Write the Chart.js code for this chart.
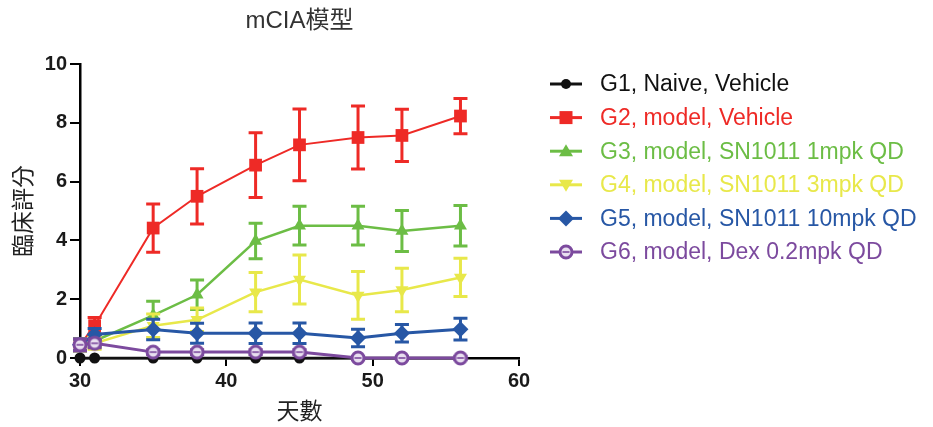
<!DOCTYPE html>
<html>
<head>
<meta charset="utf-8">
<script src="https://cdn.jsdelivr.net/npm/chart.js@4.4.0/dist/chart.umd.min.js"></script>
<style>
  html, body { margin: 0; padding: 0; background: #fff; }
  #wrap { width: 933px; height: 427px; }
</style>
</head>
<body>
<div id="wrap"><canvas id="c" width="933" height="427"></canvas></div>
<script>
// Days after immunisation
const days = [30, 31, 35, 38, 42, 45, 49, 52, 56];

// Mean clinical score per group
const g1 = [0, 0, 0, 0, 0, 0, 0, 0, 0];
const g2 = [0.45, 1.1, 4.42, 5.5, 6.56, 7.25, 7.5, 7.57, 8.23];
const g3 = [0.45, 0.58, 1.45, 2.15, 3.98, 4.5, 4.5, 4.32, 4.5];
const g4 = [0.45, 0.5, 1.1, 1.3, 2.24, 2.67, 2.13, 2.31, 2.74];
const g5 = [0.45, 0.8, 0.97, 0.84, 0.84, 0.84, 0.68, 0.84, 0.98];
const g6 = [0.45, 0.5, 0.2, 0.2, 0.2, 0.2, 0, 0, 0];

// Standard error per group
const g1Err = [0, 0, 0, 0, 0, 0, 0, 0, 0];
const g2Err = [0.2, 0.28, 0.82, 0.94, 1.1, 1.22, 1.07, 0.89, 0.6];
const g3Err = [0.2, 0.2, 0.48, 0.5, 0.6, 0.66, 0.66, 0.7, 0.69];
const g4Err = [0.2, 0.2, 0.4, 0.4, 0.67, 0.83, 0.81, 0.74, 0.65];
const g5Err = [0.2, 0.2, 0.35, 0.34, 0.35, 0.35, 0.3, 0.3, 0.37];
const g6Err = [0.2, 0.15, 0.08, 0.08, 0.08, 0.08, 0.05, 0.05, 0.05];

const groupNames = [
  'G1, Naive, Vehicle',
  'G2, model, Vehicle',
  'G3, model, SN1011 1mpk QD',
  'G4, model, SN1011 3mpk QD',
  'G5, model, SN1011 10mpk QD',
  'G6, model, Dex 0.2mpk QD'
];

const xTicks = [30, 40, 50, 60];
const yTicks = [0, 2, 4, 6, 8, 10];

const chartTitle = 'mCIA模型';
const colors = ['#111111', '#EE2A26', '#6CBD45', '#E8E84A', '#2757A5', '#7C4A9E'];

const FONT = '"Liberation Sans", Arial, "Noto Sans CJK TC", sans-serif';

// Hollow circle with a bar, used for the Dex group
function makeDexMarker() {
  const cv = document.createElement('canvas');
  cv.width = 18; cv.height = 18;
  const c = cv.getContext('2d');
  c.beginPath();
  c.arc(9, 9, 6, 0, Math.PI * 2);
  c.fillStyle = '#e9e0f0';
  c.fill();
  c.lineWidth = 3;
  c.strokeStyle = colors[5];
  c.stroke();
  c.beginPath();
  c.moveTo(5.5, 9); c.lineTo(12.5, 9);
  c.lineWidth = 1.6;
  c.stroke();
  return cv;
}
const dexMarker = makeDexMarker();

const means = [g1, g2, g3, g4, g5, g6];
const errs = [g1Err, g2Err, g3Err, g4Err, g5Err, g6Err];
const styles = [
  { pointStyle: 'circle', radius: 5.5, rotation: 0 },
  { pointStyle: 'rect', radius: 9, rotation: 0 },
  { pointStyle: 'triangle', radius: 7.5, rotation: 0 },
  { pointStyle: 'triangle', radius: 7.5, rotation: 180 },
  { pointStyle: 'rectRot', radius: 8, rotation: 0 },
  { pointStyle: dexMarker, radius: 7, rotation: 0 }
];
const lineWidths = [2.5, 2, 2.5, 2.5, 3, 3];

const datasets = means.map((vals, i) => ({
  label: groupNames[i],
  data: days.map((d, k) => ({ x: d, y: vals[k] })),
  errors: errs[i],
  borderColor: colors[i],
  backgroundColor: colors[i],
  borderWidth: lineWidths[i],
  pointStyle: styles[i].pointStyle,
  pointRadius: styles[i].radius,
  pointRotation: styles[i].rotation,
  pointBorderWidth: 0,
  pointBackgroundColor: colors[i],
  tension: 0,
  clip: false,
  order: 5 - i
}));

// Vertical error bars with caps, drawn under each series' line
const errorBarPlugin = {
  id: 'errorBars',
  beforeDatasetDraw(chart, args) {
    const ds = chart.data.datasets[args.index];
    if (!ds.errors) return;
    const ctx = chart.ctx;
    const xs = chart.scales.x, ys = chart.scales.y;
    ctx.save();
    ctx.strokeStyle = ds.borderColor;
    ctx.lineWidth = 3;
    ds.data.forEach((p, k) => {
      const e = ds.errors[k];
      if (!e) return;
      const px = xs.getPixelForValue(p.x);
      const top = ys.getPixelForValue(p.y + e);
      const bot = ys.getPixelForValue(Math.max(p.y - e, -0.1));
      const cap = 7;
      ctx.beginPath();
      ctx.moveTo(px, top); ctx.lineTo(px, bot);
      ctx.moveTo(px - cap, top); ctx.lineTo(px + cap, top);
      ctx.moveTo(px - cap, bot); ctx.lineTo(px + cap, bot);
      ctx.stroke();
    });
    ctx.restore();
  }
};

function drawLegendMarker(ctx, i, x, y) {
  ctx.save();
  ctx.fillStyle = colors[i];
  ctx.beginPath();
  if (i === 0) {
    ctx.arc(x, y, 5, 0, Math.PI * 2);
    ctx.fill();
  } else if (i === 1) {
    ctx.rect(x - 6.5, y - 6.5, 13, 13);
    ctx.fill();
  } else if (i === 2) {
    ctx.moveTo(x, y - 7); ctx.lineTo(x + 7, y + 5); ctx.lineTo(x - 7, y + 5);
    ctx.closePath(); ctx.fill();
  } else if (i === 3) {
    ctx.moveTo(x, y + 7); ctx.lineTo(x + 7, y - 5); ctx.lineTo(x - 7, y - 5);
    ctx.closePath(); ctx.fill();
  } else if (i === 4) {
    ctx.moveTo(x, y - 8); ctx.lineTo(x + 8, y); ctx.lineTo(x, y + 8); ctx.lineTo(x - 8, y);
    ctx.closePath(); ctx.fill();
  } else {
    ctx.drawImage(dexMarker, x - 9, y - 9);
  }
  ctx.restore();
}

// Legend column to the right of the plot, title centred over the plot area
const sideLegendPlugin = {
  id: 'sideLegend',
  afterDraw(chart) {
    const ctx = chart.ctx;
    const area = chart.chartArea;
    ctx.save();
    ctx.font = '24px ' + FONT;
    ctx.fillStyle = '#333333';
    ctx.textAlign = 'center';
    ctx.textBaseline = 'middle';
    ctx.fillText(chartTitle, (area.left + area.right) / 2, 21);

    const x0 = 550, x1 = 582, tx = 600, y0 = 84, step = 33.6;
    ctx.font = '23px ' + FONT;
    ctx.textAlign = 'left';
    groupNames.forEach((name, i) => {
      const y = y0 + i * step;
      ctx.strokeStyle = colors[i];
      ctx.lineWidth = 3;
      ctx.beginPath();
      ctx.moveTo(x0, y); ctx.lineTo(x1, y);
      ctx.stroke();
      drawLegendMarker(ctx, i, (x0 + x1) / 2, y);
      ctx.fillStyle = colors[i];
      ctx.fillText(name, tx, y + 1);
    });
    ctx.restore();
  }
};

new Chart(document.getElementById('c'), {
  type: 'line',
  data: { datasets },
  plugins: [errorBarPlugin, sideLegendPlugin],
  options: {
    responsive: false,
    animation: false,
    devicePixelRatio: 1,
    layout: { padding: { left: 0, right: 414, top: 64, bottom: 0 } },
    plugins: {
      legend: { display: false },
      tooltip: { enabled: false },
      title: { display: false }
    },
    scales: {
      x: {
        type: 'linear',
        min: 30,
        max: 60,
        afterFit(scale) { scale.height = 69; },
        afterBuildTicks(scale) { scale.ticks = xTicks.map(v => ({ value: v })); },
        ticks: {
          color: '#1a1a1a',
          font: { family: FONT, size: 20, weight: 'bold' },
          padding: 3,
          maxRotation: 0
        },
        grid: { display: true, drawOnChartArea: false, drawTicks: true, tickLength: 8, color: '#000', lineWidth: 2 },
        border: { display: true, color: '#000', width: 2.5 },
        title: {
          display: true,
          text: '天數',
          color: '#222',
          font: { family: FONT, size: 23 },
          padding: { top: 0, bottom: 1 }
        }
      },
      y: {
        min: 0,
        max: 10,
        afterFit(scale) { scale.width = 80; },
        afterBuildTicks(scale) { scale.ticks = yTicks.map(v => ({ value: v })); },
        ticks: {
          color: '#1a1a1a',
          font: { family: FONT, size: 20, weight: 'bold' },
          padding: 3
        },
        grid: { display: true, drawOnChartArea: false, drawTicks: true, tickLength: 10, color: '#000', lineWidth: 2 },
        border: { display: true, color: '#000', width: 2.5 },
        title: {
          display: true,
          text: '臨床評分',
          color: '#222',
          font: { family: FONT, size: 23 },
          padding: { top: 11, bottom: 0 }
        }
      }
    }
  }
});
</script>
</body>
</html>
